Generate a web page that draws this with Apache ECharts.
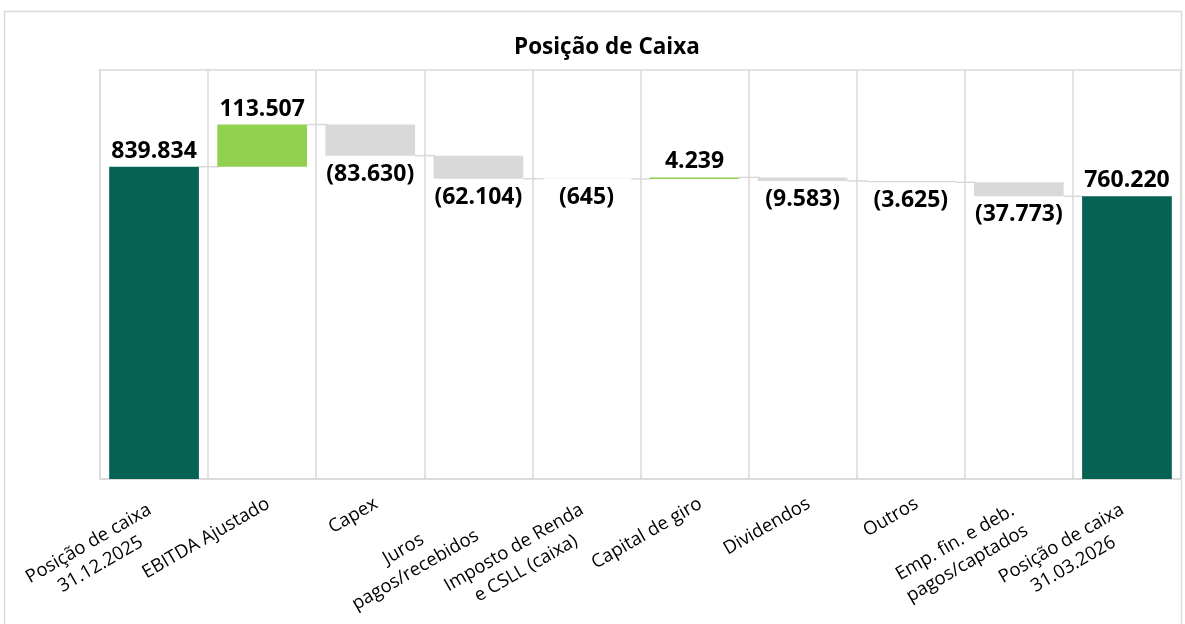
<!DOCTYPE html>
<html>
<head>
<meta charset="utf-8">
<script src="https://cdn.jsdelivr.net/npm/echarts@6/dist/echarts.min.js"></script>
<style>
  html, body { margin: 0; padding: 0; background: #fff; }
  #main { width: 1185px; height: 624px; }
</style>
</head>
<body>
<div id="main"></div>
<script>
// categorias e valores (R$ mil)
var categories = [
  'Posição de caixa\n31.12.2025',
  'EBITDA Ajustado',
  'Capex',
  'Juros\npagos/recebidos',
  'Imposto de Renda\ne CSLL (caixa)',
  'Capital de giro',
  'Dividendos',
  'Outros',
  'Emp. fin. e deb.\npagos/captados',
  'Posição de caixa\n31.03.2026'
];
var values = [839834, 113507, -83630, -62104, -645, 4239, -9583, -3625, -37773, 760220];
var isTotal = [true, false, false, false, false, false, false, false, false, true];

var colTotal = '#066354';
var colUp = '#92D050';
var colDown = '#D9D9D9';
var gridCol = '#D9D9D9';

// monta base invisivel + barra visivel
var base = [], delta = [], levels = [];
var run = 0;
for (var i = 0; i < values.length; i++) {
  var v = values[i];
  if (isTotal[i]) {
    base.push(0);
    delta.push({ value: v, itemStyle: { color: colTotal }, label: { position: 'top', distance: 4 } });
    run = v;
  } else if (v >= 0) {
    base.push(run);
    delta.push({ value: v, itemStyle: { color: colUp }, label: { position: 'top', distance: 4 } });
    run = run + v;
  } else {
    base.push(run + v);
    delta.push({ value: -v, itemStyle: { color: colDown }, label: { position: 'bottom', distance: 7 } });
    run = run + v;
  }
  if (i < values.length - 1) levels.push([i, run]);
}

function fmt(v) {
  var s = String(Math.abs(v)).replace(/\B(?=(\d{3})+(?!\d))/g, '.');
  return v < 0 ? '(' + s + ')' : s;
}

var barGap = 0.17;

var myChart = echarts.init(document.getElementById('main'));
var option = {
  backgroundColor: '#fff',
  animation: false,
  graphic: [{
    type: 'rect',
    shape: { x: 4.5, y: 11.5, width: 1177, height: 640 },
    style: { fill: 'none', stroke: '#D9D9D9', lineWidth: 1.5 },
    silent: true
  }],
  title: {
    text: 'Posição de Caixa',
    left: 509,
    top: 31,
    textStyle: { fontFamily: 'Open Sans', fontWeight: 'bold', fontSize: 22.5, color: '#000' }
  },
  grid: { left: 100, right: 4, top: 70, bottom: 145, show: true, borderColor: gridCol, borderWidth: 1.5 },
  xAxis: {
    type: 'category',
    data: categories,
    axisTick: { show: false },
    axisLine: { lineStyle: { color: gridCol, width: 1.5 } },
    splitLine: { show: true, interval: 0, lineStyle: { color: gridCol, width: 1.5 } },
    axisLabel: {
      interval: 0,
      rotate: 30,
      align: 'right',
      verticalAlign: 'top',
      margin: 13,
      fontFamily: 'Open Sans',
      fontSize: 18.5,
      color: '#000',
      formatter: function (val) {
        var lines = val.split('\n');
        // rotulos de 2 linhas ficam um pouco mais a esquerda (como no excel)
        var sp = lines.length < 2 ? '' : (val.indexOf('Juros') === 0 ? '{s2| }' : '{s| }');
        return lines.map(function (l) { return '{c|' + l + '}' + sp; }).join('\n');
      },
      rich: {
        c: { align: 'center', fontFamily: 'Open Sans', fontSize: 18.5, color: '#000', lineHeight: 24 },
        s: { align: 'right', width: 12, fontSize: 18.5, lineHeight: 24 },
        s2: { align: 'right', width: 22, fontSize: 18.5, lineHeight: 24 }
      }
    }
  },
  yAxis: { type: 'value', min: 0, max: 1100000, show: false, splitLine: { show: false } },
  series: [
    {
      name: 'base', type: 'bar', stack: 'w', data: base,
      barCategoryGap: (barGap * 100) + '%',
      itemStyle: { color: 'rgba(0,0,0,0)' },
      silent: true
    },
    {
      name: 'valor', type: 'bar', stack: 'w', data: delta,
      barCategoryGap: (barGap * 100) + '%',
      label: {
        show: true,
        fontFamily: 'Open Sans', fontWeight: 'bold', fontSize: 23, color: '#000',
        formatter: function (p) { return fmt(values[p.dataIndex]); }
      }
    },
    {
      name: 'conector', type: 'custom', data: levels,
      encode: { x: 0, y: 1 },
      silent: true,
      z: 1,
      renderItem: function (params, api) {
        var p = api.coord([api.value(0), api.value(1)]);
        var w = api.size([1, 0])[0];
        var bw = w * (1 - barGap);
        return {
          type: 'line',
          shape: { x1: p[0] + bw / 2, y1: p[1], x2: p[0] + w - bw / 2 + 2, y2: p[1] },
          style: { stroke: '#D9D9D9', lineWidth: 1.5 }
        };
      }
    }
  ]
};
myChart.setOption(option);
</script>
</body>
</html>
